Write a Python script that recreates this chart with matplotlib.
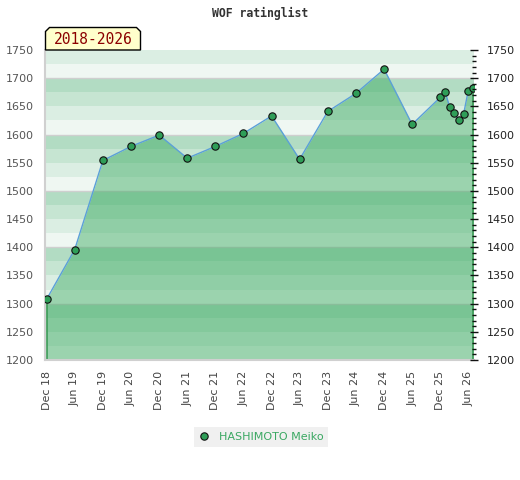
import datetime as dt
import matplotlib
matplotlib.use("Agg")
import matplotlib.pyplot as plt
import matplotlib.dates as mdates
from matplotlib.patches import Polygon
from matplotlib.ticker import MultipleLocator

# ---- data ----
dates = ["2018-12", "2019-06", "2019-12", "2020-06", "2020-12", "2021-06",
         "2021-12", "2022-06", "2022-12", "2023-06", "2023-12", "2024-06",
         "2024-12", "2025-06", "2025-12", "2026-01", "2026-02", "2026-03",
         "2026-04", "2026-05", "2026-06", "2026-07"]
ratings = [1308, 1396, 1554, 1579, 1599, 1558, 1579, 1602, 1633, 1556,
           1641, 1673, 1716, 1618, 1666, 1676, 1648, 1639, 1625, 1636,
           1678, 1682]
player = "HASHIMOTO Meiko"
title = "WOF ratinglist"
period_label = "2018-2026"
y_min, y_max = 1200, 1750

x = [dt.datetime.strptime(d, "%Y-%m") for d in dates]

W, H = 520, 480
fig = plt.figure(figsize=(W / 100, H / 100), dpi=100)
L, R, T, B = 45, 474, 50, 360
ax = fig.add_axes([L / W, 1 - B / H, (R - L) / W, (B - T) / H])

# background bands
band_cols = ['#eff7f2', '#dbeee3', '#c6e5d2', '#b2dcc3']
for lo in range(y_min, y_max, 25):
    ax.axhspan(lo, lo + 25, color=band_cols[(lo // 25) % 4], lw=0, zorder=0)
for g in range(y_min, y_max + 1, 100):
    ax.axhline(g, color='#cfcfcf', lw=1, zorder=0.5)

ax.fill_between(x, ratings, y_min, color='#31a658', alpha=0.44, lw=0, zorder=1)
ax.vlines([x[0], x[-1]], y_min, [ratings[0], ratings[-1]], color='#3a9a55', lw=1.2, zorder=2)
ax.plot(x, ratings, color='#5ba0d8', lw=1.0, zorder=3,
        marker='o', markersize=5.3, markerfacecolor='#2f9e58',
        markeredgecolor='#111111', markeredgewidth=0.8, label=player)

ax.set_ylim(y_min, y_max)
ax.set_xlim(dt.datetime(2018, 11, 20), dt.datetime(2026, 7, 8))
ax.xaxis.set_major_locator(mdates.MonthLocator(bymonth=[6, 12]))
ax.xaxis.set_major_formatter(mdates.DateFormatter('%b %y'))
ax.yaxis.set_major_locator(MultipleLocator(50))
ax.tick_params(axis='x', length=0, labelsize=8, labelcolor='#444444',
               labelrotation=90, pad=8)
ax.tick_params(axis='y', length=0, labelsize=8, labelcolor='#555555', pad=8)
for s in ['top', 'right']:
    ax.spines[s].set_visible(False)
for s in ['left', 'bottom']:
    ax.spines[s].set_color('#d0d0d0')
    ax.spines[s].set_linewidth(1.5)

ax2 = ax.twinx()
ax2.set_ylim(y_min, y_max)
ax2.yaxis.set_major_locator(MultipleLocator(50))
ax2.yaxis.set_minor_locator(MultipleLocator(10))
ax2.tick_params(axis='y', which='major', direction='inout', length=6,
                width=1, color='#111111', labelsize=8, labelcolor='#222222', pad=6)
ax2.tick_params(axis='y', which='minor', direction='inout', length=3,
                width=1, color='#111111')
for s in ax2.spines.values():
    s.set_visible(False)

# title
fig.text(0.5, 1 - 13 / H, title, ha='center', va='center', fontsize=8.3,
         family='DejaVu Sans Mono', weight='bold', color='#333333')

# period label box with chamfered top corners
bx0, bx1, by0, by1, c = 45.5, 140.5, 50, 27.5, 4
pts = [(bx0, by0), (bx0, by1 + c), (bx0 + c, by1), (bx1 - c, by1),
       (bx1, by1 + c), (bx1, by0)]
pts = [(px / W, 1 - py / H) for px, py in pts]
fig.patches.append(Polygon(pts, closed=True, transform=fig.transFigure,
                           facecolor='#ffffcc', edgecolor='black', lw=1, zorder=5))
fig.text((bx0 + bx1) / 2 / W, 1 - 39.5 / H, period_label, ha='center', va='center',
         fontsize=10.5, family='DejaVu Sans Mono', color='#8b0000', zorder=6)

leg = ax.legend(loc='center', bbox_to_anchor=(261 / W, 1 - 437 / H),
                bbox_transform=fig.transFigure, frameon=True, fancybox=False,
                fontsize=8, labelcolor='#3aa862', handlelength=1.0,
                handletextpad=0.8, borderpad=0.45)
leg.get_frame().set_facecolor('#f0f0f0')
leg.get_frame().set_edgecolor('none')
leg.get_frame().set_alpha(1)
for h in leg.legend_handles:
    h.set_linestyle('none')

fig.savefig('out.png', dpi=100)
